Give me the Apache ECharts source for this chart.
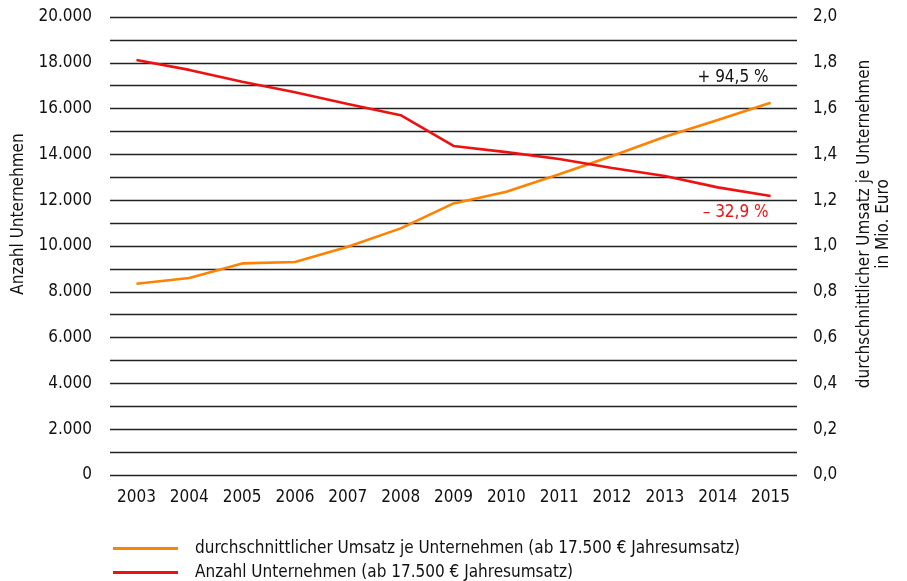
<!DOCTYPE html>
<html>
<head>
<meta charset="utf-8">
<script src="https://cdn.jsdelivr.net/npm/echarts@6/dist/echarts.min.js"></script>
<style>
  html, body { margin: 0; padding: 0; background: #fff; }
  #chart { width: 907px; height: 581px; }
</style>
</head>
<body>
<div id="chart"></div>
<script>
// Jahre
var years = ['2003', '2004', '2005', '2006', '2007', '2008', '2009', '2010', '2011', '2012', '2013', '2014', '2015'];
// durchschnittlicher Umsatz je Unternehmen, Mio. Euro (rechte Achse)
var umsatz = [0.835, 0.860, 0.924, 0.930, 0.997, 1.077, 1.186, 1.237, 1.313, 1.393, 1.477, 1.550, 1.626];
// Anzahl Unternehmen (linke Achse)
var anzahl = [18120, 17690, 17170, 16710, 16200, 15710, 14370, 14100, 13800, 13410, 13060, 12560, 12180];
var umsatzLabel = '+ 94,5 %';
var anzahlLabel = '– 32,9 %';
var nameUmsatz = 'durchschnittlicher Umsatz je Unternehmen (ab 17.500 € Jahresumsatz)';
var nameAnzahl = 'Anzahl Unternehmen (ab 17.500 € Jahresumsatz)';

var FONT = "'Liberation Sans Narrow', 'DejaVu Sans Condensed', sans-serif";
var FS = 17;
var orange = '#ff8200';
var red = '#ee1111';

var chart = echarts.init(document.getElementById('chart'));

function fmtLeft(v) {
  if (v % 2000 !== 0) return '';
  return String(v).replace(/\B(?=(\d{3})+(?!\d))/g, '.');
}
function fmtRight(v) {
  var r = Math.round(v * 10);
  if (r % 2 !== 0) return '';
  return (r / 10).toFixed(1).replace('.', ',');
}

function legendFor(name, top) {
  return {
    left: 108,
    top: top,
    itemWidth: 65,
    itemHeight: 3,
    icon: 'rect',
    textStyle: { fontFamily: FONT, fontSize: FS, color: '#111', padding: [0, 0, 0, 12] },
    data: [name]
  };
}

chart.setOption({
  animation: false,
  textStyle: { fontFamily: FONT },
  grid: { left: 110, right: 110, top: 17, bottom: 106 },
  legend: [legendFor(nameUmsatz, 535), legendFor(nameAnzahl, 559)],
  xAxis: {
    type: 'category',
    data: years,
    boundaryGap: true,
    axisLine: { show: false },
    axisTick: { show: false },
    axisLabel: { color: '#111', fontSize: FS, margin: 14, interval: 0, fontFamily: FONT }
  },
  yAxis: [
    {
      type: 'value',
      min: 0,
      max: 20000,
      interval: 1000,
      axisLine: { show: false },
      axisTick: { show: false },
      axisLabel: { color: '#111', fontSize: FS, margin: 18, formatter: fmtLeft, fontFamily: FONT },
      splitLine: { lineStyle: { color: '#222', width: 1.3 } }
    },
    {
      type: 'value',
      min: 0,
      max: 2,
      interval: 0.1,
      position: 'right',
      axisLine: { show: false },
      axisTick: { show: false },
      axisLabel: { color: '#111', fontSize: FS, margin: 16, formatter: fmtRight, fontFamily: FONT },
      splitLine: { show: false }
    }
  ],
  series: [
    {
      name: nameUmsatz,
      type: 'line',
      yAxisIndex: 1,
      data: umsatz,
      symbol: 'none',
      color: orange,
      lineStyle: { color: orange, width: 2.6 },
      markPoint: {
        symbol: 'circle',
        symbolSize: 0,
        data: [{ coord: [years.length - 1, umsatz[umsatz.length - 1]] }],
        label: {
          show: true,
          position: 'inside',
          align: 'right',
          offset: [-2, -25],
          formatter: umsatzLabel,
          color: '#111',
          fontSize: FS,
          fontFamily: FONT
        }
      }
    },
    {
      name: nameAnzahl,
      type: 'line',
      yAxisIndex: 0,
      data: anzahl,
      symbol: 'none',
      color: red,
      lineStyle: { color: red, width: 2.6 },
      markPoint: {
        symbol: 'circle',
        symbolSize: 0,
        data: [{ coord: [years.length - 1, anzahl[anzahl.length - 1]] }],
        label: {
          show: true,
          position: 'inside',
          align: 'right',
          offset: [-2, 17],
          formatter: anzahlLabel,
          color: red,
          fontSize: FS,
          fontFamily: FONT
        }
      }
    }
  ],
  graphic: [
    {
      type: 'text',
      rotation: Math.PI / 2,
      x: 19,
      y: 214,
      style: {
        text: 'Anzahl Unternehmen',
        fill: '#111',
        font: FS + 'px ' + FONT,
        align: 'center',
        verticalAlign: 'middle'
      }
    },
    {
      type: 'text',
      rotation: Math.PI / 2,
      x: 874,
      y: 224,
      style: {
        text: 'durchschnittlicher Umsatz je Unternehmen\nin Mio. Euro',
        fill: '#111',
        font: FS + 'px ' + FONT,
        align: 'center',
        verticalAlign: 'middle',
        lineHeight: 19
      }
    }
  ]
});
</script>
</body>
</html>
